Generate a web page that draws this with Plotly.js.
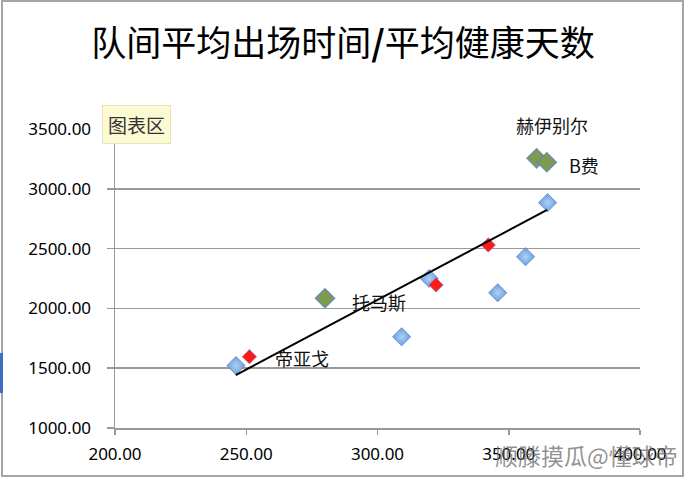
<!DOCTYPE html>
<html>
<head>
<meta charset="utf-8">
<script src="https://cdn.plot.ly/plotly-3.0.1.min.js"></script>
<style>html,body{margin:0;padding:0;background:#fff;}#chart{width:686px;height:478px;}</style>
</head>
<body>
<div id="chart"></div>
<script>
// ---- data ----
var titleParts = ['队间平均出场时间', '/', '平均健康天数'];
var blue_x = [246.1, 309.2, 319.7, 345.8, 356.4, 364.8];
var blue_y = [1522, 1763, 2250, 2131, 2432, 2884];
var green_x = [360.6, 364.5, 280.0];
var green_y = [3255, 3222, 2085];
var green_names = ['赫伊别尔', 'B费', '托马斯'];
var red_x = [251.2, 322.3, 342.2];
var red_y = [1596, 2196, 2530];
var red_names = ['帝亚戈', '', ''];
var trend_x = [246.0, 364.6];
var trend_y = [1443, 2823];
var x_ticks = [200, 250, 300, 350, 400];
var y_ticks = [1000, 1500, 2000, 2500, 3000, 3500];
var tooltipText = '图表区';
var watermark = '顺滕摸瓜@懂球帝';

// ---- chart ----
var cjk = '"Noto Sans CJK SC", sans-serif';
var W = 686, H = 478, L = 115, R = 46, T = 129, B = 50;
var pw = W - L - R, ph = H - T - B;
function px(xp) { return (xp - L) / pw; }
function py(yp) { return (H - B - yp) / ph; }

var traces = [
  {x: blue_x, y: blue_y, mode: 'markers', type: 'scatter', hoverinfo: 'x+y',
   marker: {symbol: 'diamond', size: 14, color: '#6a9fe0',
            gradient: {type: 'radial', color: '#aecff4'},
            line: {width: 1, color: 'rgba(70,110,180,0.6)'}}},
  {x: green_x, y: green_y, mode: 'markers', type: 'scatter', hoverinfo: 'x+y',
   marker: {symbol: 'diamond', size: 15, color: '#7e9a4c',
            line: {width: 1.2, color: 'rgba(90,130,200,0.8)'}}},
  {x: red_x, y: red_y, mode: 'markers', type: 'scatter', hoverinfo: 'x+y',
   marker: {symbol: 'diamond', size: 11, color: '#ff1a1a',
            line: {width: 1, color: 'rgba(120,120,170,0.6)'}}},
  {x: trend_x, y: trend_y, mode: 'lines', type: 'scatter', hoverinfo: 'skip',
   line: {color: '#000', width: 2}}
];

var annotations = [];
var gShift = [[15, 33], [37, -3], [54, -4]];
green_names.forEach(function (n, i) {
  if (!n) return;
  annotations.push({x: green_x[i], y: green_y[i], xref: 'x', yref: 'y', text: n,
    showarrow: false, xanchor: 'center', yanchor: 'middle',
    xshift: gShift[i][0], yshift: gShift[i][1],
    font: {family: cjk, size: 18, color: '#111'}});
});
red_names.forEach(function (n, i) {
  if (!n) return;
  annotations.push({x: red_x[i], y: red_y[i], xref: 'x', yref: 'y', text: n,
    showarrow: false, xanchor: 'center', yanchor: 'middle', xshift: 53, yshift: -1,
    font: {family: cjk, size: 18, color: '#111'}});
});
annotations.push({x: px(136), y: py(124.5), xref: 'paper', yref: 'paper', text: tooltipText,
  showarrow: false, xanchor: 'center', yanchor: 'middle',
  bgcolor: '#fcfad3', bordercolor: '#e6e2bc', borderwidth: 1, borderpad: 5,
  font: {family: cjk, size: 19, color: '#333'}});
annotations.push({x: px(586), y: py(455), xref: 'paper', yref: 'paper', text: watermark,
  showarrow: false, xanchor: 'center', yanchor: 'middle',
  font: {family: cjk, size: 23, color: 'rgba(110,110,110,0.75)'}});

var layout = {
  width: W, height: H,
  margin: {l: L, r: R, t: T, b: B, pad: 0},
  paper_bgcolor: '#fff', plot_bgcolor: '#fff',
  showlegend: false,
  title: {text: titleParts[0] + '<b>' + titleParts[1] + '</b>' + titleParts[2],
          xref: 'container', x: 0.5, y: 1 - 44 / H, yanchor: 'middle',
          font: {family: cjk, size: 35, color: '#000'}},
  xaxis: {range: [200, 400], tickvals: x_ticks, tickformat: '.2f', showgrid: false,
          zeroline: false, showline: true, linecolor: '#999', linewidth: 1.5,
          ticks: 'outside', ticklen: 5, tickcolor: '#999', tickwidth: 1.5,
          ticklabelstandoff: 5,
          tickfont: {family: '"Noto Sans", sans-serif', size: 17, color: '#000'}},
  yaxis: {range: [1000, 3500], tickvals: y_ticks, tickformat: '.2f', showgrid: true,
          gridcolor: '#9a9a9a', gridwidth: 1.5,
          zeroline: false, showline: true, linecolor: '#999', linewidth: 1.5,
          ticks: 'outside', ticklen: 7, tickcolor: '#999', tickwidth: 1.5,
          ticklabelstandoff: 12,
          tickfont: {family: '"Noto Sans", sans-serif', size: 17, color: '#000'}},
  annotations: annotations,
  shapes: [
    {type: 'rect', xref: 'paper', yref: 'paper', x0: px(2), x1: px(683), y0: py(476), y1: py(1),
     line: {color: '#a5a5a5', width: 2}, fillcolor: 'rgba(0,0,0,0)', layer: 'below'},
    {type: 'rect', xref: 'paper', yref: 'paper', x0: px(0), x1: px(3), y0: py(393), y1: py(353),
     line: {width: 0}, fillcolor: '#3b6fc4', layer: 'above'}
  ]
};

Plotly.newPlot('chart', traces, layout, {staticPlot: true, displayModeBar: false});
</script>
</body>
</html>
